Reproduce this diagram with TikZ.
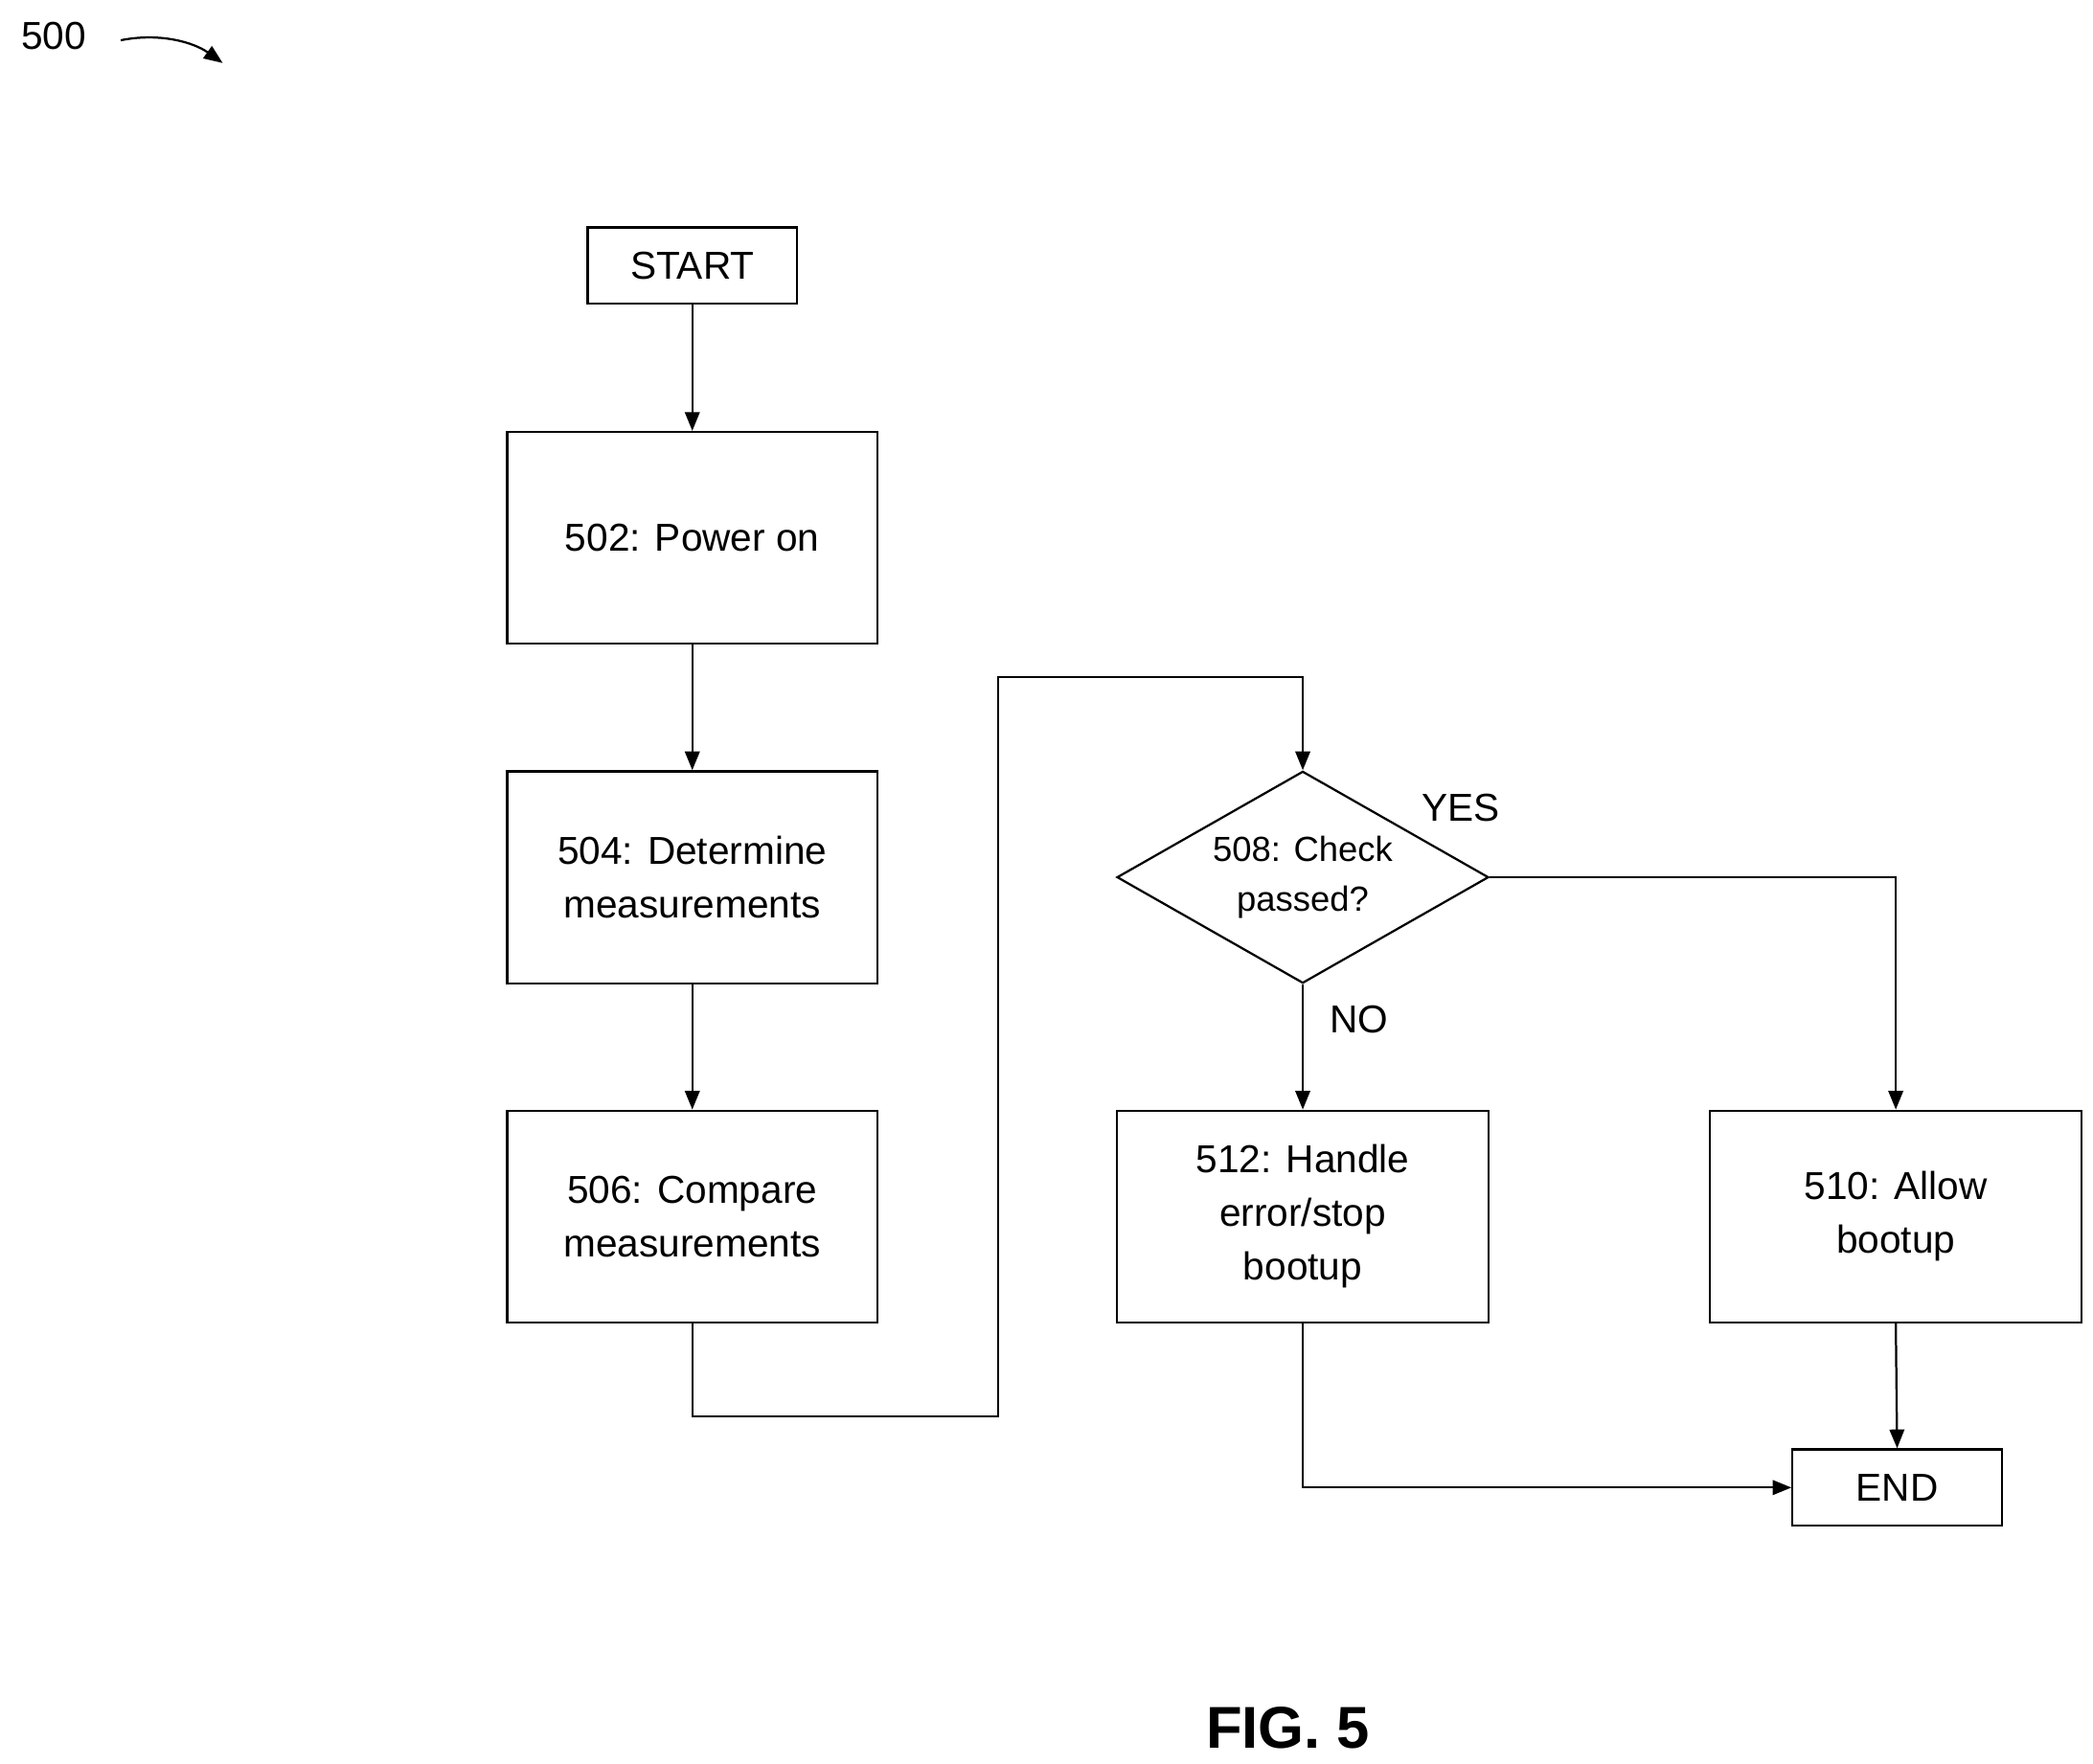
\documentclass[tikz,border=0pt]{standalone}
\usepackage{fontspec}
\setmainfont{Liberation Sans}
\usetikzlibrary{shapes.geometric,arrows.meta}
\begin{document}
\begin{tikzpicture}[x=1pt,y=-1pt,
  box/.style={draw,line width=1.6pt,inner sep=0pt,align=center,font=\fontsize{29}{40}\selectfont},
  arr/.style={line width=1.6pt,-{Triangle[length=14pt,width=11pt]}},
  ln/.style={line width=1.6pt},
  lab/.style={font=\fontsize{29}{34}\selectfont}]
\useasboundingbox (0,0) rectangle (1560,1315);
\node[box,minimum width=156pt,minimum height=57pt] (s) at (516,198) {START};
\node[box,minimum width=276pt,minimum height=158pt] (a) at (516,401) {502: Power on};
\node[box,minimum width=276pt,minimum height=158pt] (b) at (516,654) {504: Determine\\measurements};
\node[box,minimum width=276pt,minimum height=158pt] (c) at (516,907) {506: Compare\\measurements};
\node[draw,line width=1.6pt,diamond,aspect=1.75,minimum width=277pt,minimum height=158pt,inner sep=0pt,align=center,font=\fontsize{26}{37}\selectfont] (d) at (971,654) {508: Check\\passed?};
\node[box,minimum width=277pt,minimum height=158pt] (e) at (971,907) {512: Handle\\error/stop\\bootup};
\node[box,minimum width=277pt,minimum height=158pt] (f) at (1413,907) {510: Allow\\bootup};
\node[box,minimum width=156pt,minimum height=57pt] (g) at (1414,1109) {END};
\node[lab] (yes) at (1089,602) {YES};
\node[lab] (no) at (1013,760) {NO};
\node[font=\fontsize{29}{34}\selectfont] (n) at (40,27) {500};
\node[font=\bfseries\fontsize{44}{50}\selectfont] (fig) at (960,1288) {FIG. 5};
\coordinate (p1) at (90,30);
\coordinate (p2) at (166,47);
\draw[arr] (s) -- (a);
\draw[arr] (a) -- (b);
\draw[arr] (b) -- (c);
\draw[arr] (c.south) -- ++(0,69) -| (744,505) -| (d.north);
\draw[arr] (d.south) -- (e.north);
\draw[arr] (d.east) -| (f.north);
\draw[arr] (f.south) -- (g.north);
\draw[arr] (e.south) |- (g.west);
\draw[line width=1.6pt,-{Triangle[length=14pt,width=11pt]}] (p1) .. controls (120,24) and (145,32) .. (p2);
\end{tikzpicture}
\end{document}
